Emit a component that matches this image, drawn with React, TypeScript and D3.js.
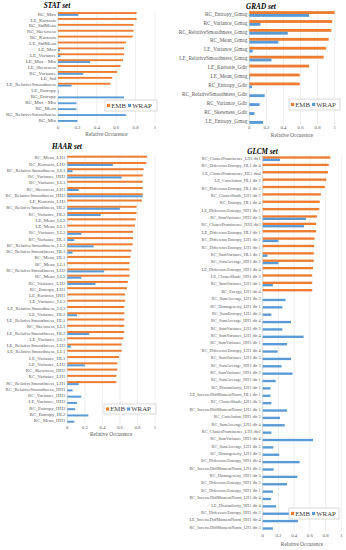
import React from 'react';
import * as d3 from 'd3';

// ---- data ----
const TICKS = [0, 0.2, 0.4, 0.6, 0.8, 1];
const SERIES = ['EMB', 'WRAP'];
const COLORS = ['#ED7D31', '#5B9BD5'];

const STAT_CATS = ['RC_Max', 'LE_Kurtosis', 'RC_StdMean', 'RC_Skewness', 'RC_Kurtosis', 'LE_StdMean', 'LE_Max', 'LE_Variance', 'LE_Max - Min', 'LE_Skewness', 'RC_Variance', 'LE_Std', 'LE_RelativeSmoothness', 'LE_Entropy', 'RC_Entropy', 'RC_Max - Min', 'RC_Mean', 'RC_RelativeSmoothness', 'RC_Min'];
const STAT_EMB = [0.81, 0.81, 0.78, 0.78, 0.77, 0.7, 0.68, 0.68, 0.67, 0.645, 0.61, 0.56, 0.54, 0, 0, 0, 0, 0, 0];
const STAT_WRAP = [0.21, 0, 0, 0, 0, 0, 0.02, 0.025, 0.33, 0, 0.26, 0, 0.14, 0.01, 0.68, 0.19, 0.19, 0.7, 0.2];

const GRAD_CATS = ['RC_Entropy_Gmag', 'RC_Variance_Gmag', 'RC_RelativeSmoothness_Gmag', 'RC_Mean_Gmag', 'LE_Variance_Gmag', 'LE_RelativeSmoothness_Gmag', 'LE_Kurtosis_Gdir', 'LE_Mean_Gmag', 'RC_Entropy_Gdir', 'RC_RelativeSmoothness_Gdir', 'RC_Variance_Gdir', 'RC_Skewness_Gdir', 'LE_Entropy_Gmag'];
const GRAD_EMB = [1.0, 0.97, 0.96, 0.93, 0.9, 0.87, 0.7, 0.59, 0.59, 0, 0, 0, 0];
const GRAD_WRAP = [0.7, 0.13, 0.45, 0.34, 0.04, 0.26, 0, 0.01, 0.03, 0.18, 0.12, 0.06, 0.16];

const HAAR_CATS = ['RC_Mean_LH1', 'RC_Kurtosis_LH2', 'RC_RelativeSmoothness_LL1', 'RC_Variance_HH2', 'RC_Variance_LL1', 'RC_Skewness_LH1', 'RC_RelativeSmoothness_HH2', 'LE_Kurtosis_LH2', 'RC_RelativeSmoothness_HL2', 'RC_Variance_HL2', 'LE_Mean_LL2', 'LE_Mean_LL1', 'RC_Variance_LL2', 'RC_Variance_HL1', 'RC_RelativeSmoothness_LL2', 'RC_RelativeSmoothness_HL1', 'RC_Mean_HL1', 'RC_Mean_LL1', 'RC_RelativeSmoothness_LH2', 'RC_Mean_LL2', 'RC_Variance_LH2', 'RC_Entropy_LH1', 'LE_Kurtosis_HH1', 'LE_Variance_LL2', 'LE_RelativeSmoothness_LL2', 'LE_Variance_HL2', 'LE_RelativeSmoothness_HL1', 'RC_Skewness_LL1', 'LE_RelativeSmoothness_HL2', 'LE_Variance_LL1', 'LE_RelativeSmoothness_LH2', 'LE_RelativeSmoothness_LL1', 'LE_Variance_HL1', 'LE_Variance_LH2', 'RC_Skewness_HH2', 'RC_Variance_LH1', 'RC_RelativeSmoothness_LH1', 'RC_RelativeSmoothness_HH1', 'RC_Variance_HH1', 'LE_Variance_HH2', 'RC_Entropy_HH2', 'RC_Entropy_HL2', 'RC_Mean_HH1'];
const HAAR_EMB = [0.91, 0.9, 0.87, 0.86, 0.86, 0.86, 0.86, 0.85, 0.79, 0.79, 0.78, 0.77, 0.75, 0.75, 0.745, 0.73, 0.72, 0.71, 0.71, 0.71, 0.69, 0.68, 0.66, 0.66, 0.65, 0.65, 0.65, 0.65, 0.65, 0.64, 0.62, 0.62, 0.59, 0.57, 0.57, 0.56, 0.56, 0, 0, 0, 0, 0, 0];
const HAAR_WRAP = [0, 0.52, 0.06, 0.62, 0, 0.13, 0.86, 0, 0.6, 0.38, 0, 0, 0.16, 0.08, 0.3, 0.06, 0, 0, 0.42, 0.16, 0.32, 0, 0, 0, 0, 0.11, 0, 0, 0.25, 0, 0.04, 0, 0, 0.2, 0, 0, 0.13, 0.06, 0.16, 0.11, 0.09, 0.24, 0.08];

const GLCM_CATS = ['RC_ClusterProminence_LH1 dir1', 'RC_DifferenceEntropy_HL1 dir 4', 'LE_ClusterProminence_HL1 dir4', 'LE_Correlation_HL1 dir 2', 'RC_DifferenceEntropy_HL1 dir 2', 'RC_ClusterShade_LH1 dir 2', 'RC_Entropy_HL1 dir 4', 'LE_DifferenceEntropy_HH1 dir 1', 'RC_SumVariance_HH1 dir 3', 'RC_ClusterProminence_HH1 dir3', 'LE_DifferenceEntropy_HL1 dir 1', 'RC_DifferenceEntropy_LH1 dir 2', 'RC_DifferenceEntropy_LH1 dir 1', 'RC_SumVariance_HL1 dir 1', 'RC_SumAverage_HH1 dir 2', 'LE_DifferenceEntropy_HH1 dir 4', 'LE_ClusterShade_HH1 dir 2', 'RC_SumVariance_LH1 dir 1', 'RC_Energy_LH1 dir 4', 'RC_SumAverage_LH1 dir 3', 'RC_Homogeneity_LH1 dir 1', 'RC_SumEntropy_LH1 dir 3', 'RC_SumAverage_HH1 dir 4', 'RC_SumVariance_LH1 dir 2', 'RC_SumVariance_LH1 dir 4', 'RC_SumVariance_HH1 dir 1', 'RC_DifferenceEntropy_LH1 dir 4', 'RC_SumVariance_LH1 dir 3', 'RC_SumAverage_HH1 dir 3', 'RC_SumVariance_HH1 dir 2', 'RC_SumAverage_HH1 dir 1', 'RC_Dissimilarity_LH1 dir 1', 'LE_InverseDiffMomentNorm_HL1 dir 1', 'RC_ClusterShade_LH1 dir 3', 'RC_InverseDiffMomentNorm_LH1 dir 1', 'RC_Correlation_HH1 dir 2', 'RC_SumAverage_LH1 dir 4', 'RC_ClusterProminence_LH1 dir2', 'RC_SumVariance_HH1 dir 4', 'RC_SumAverage_LH1 dir 2', 'RC_Homogeneity_LH1 dir 2', 'RC_DifferenceEntropy_HH1 dir 4', 'RC_InverseDiffMomentNorm_LH1 dir 2', 'RC_Homogeneity_HH1 dir 3', 'RC_DifferenceEntropy_HH1 dir 3', 'RC_DifferenceEntropy_HH1 dir 1', 'RC_InverseDiffMomentNorm_LH1 dir 4', 'LE_Dissimilarity_HH1 dir 4', 'RC_DifferenceEntropy_HH1 dir 2', 'LE_InverseDiffMomentNorm_HH1 dir 4', 'RC_InverseDiffMomentNorm_LH1 dir 3'];
const GLCM_EMB = [0.86, 0.84, 0.83, 0.81, 0.79, 0.74, 0.725, 0.72, 0.69, 0.68, 0.68, 0.66, 0.655, 0.65, 0.65, 0.64, 0.63, 0.63, 0.63, 0, 0, 0, 0, 0, 0, 0, 0, 0, 0, 0, 0, 0, 0, 0, 0, 0, 0, 0, 0, 0, 0, 0, 0, 0, 0, 0, 0, 0, 0, 0, 0];
const GLCM_WRAP = [0.22, 0, 0, 0, 0, 0, 0, 0, 0.55, 0.525, 0, 0.2, 0, 0.06, 0.2, 0, 0, 0.13, 0, 0.29, 0.25, 0.11, 0.36, 0.25, 0.52, 0.31, 0.19, 0.36, 0.24, 0.38, 0.165, 0.1, 0.1, 0.11, 0.31, 0.22, 0.28, 0.11, 0.64, 0.135, 0.21, 0.47, 0.14, 0.44, 0.31, 0.13, 0.105, 0.17, 0.47, 0.45, 0.13];

const FONT = '"Liberation Serif", "Times New Roman", serif';

function Panel({ title, cats, emb, wrap, x0, x1, yFirst, yLast, labelSize, titleX, titleY, tickY, xTitleY, legend }) {
  const x = d3.scaleLinear().domain([0, 1]).range([x0, x1]);
  const y = d3.scalePoint().domain(cats).range([yFirst, yLast]);
  const step = y.step();
  const bh = step * 0.32;
  const top = yFirst - step / 2;
  const bottom = yLast + step / 2;
  const series = [emb, wrap];

  return (
    <g>
      <text x={titleX} y={titleY} textAnchor="middle" fontSize={7.2} fontWeight="bold" fontStyle="italic" fontFamily={FONT} fill="#000">{title}</text>
      {TICKS.map(t => (
        <line key={t} x1={x(t)} x2={x(t)} y1={top} y2={bottom} stroke={t === 0 ? '#bfbfbf' : '#e3e3e3'} strokeWidth={0.6} />
      ))}
      {series.map((vals, si) =>
        cats.map((c, i) => vals[i] > 0 ? (
          <rect key={si + c} x={x(0)} y={y(c) - bh + si * bh} width={x(vals[i]) - x(0)} height={bh} fill={COLORS[si]} />
        ) : null)
      )}
      {cats.map(c => (
        <text key={c} x={x0 - 2} y={y(c)} dy="0.33em" textAnchor="end" fontSize={labelSize} fontFamily={FONT} fill="#595959">{c}</text>
      ))}
      {TICKS.map(t => (
        <text key={'t' + t} x={x(t)} y={tickY} dy="0.33em" textAnchor="middle" fontSize={4.8} fontFamily={FONT} fill="#595959">{d3.format('~g')(t)}</text>
      ))}
      <text x={(x0 + x1) / 2} y={xTitleY} dy="0.33em" textAnchor="middle" fontSize={5.4} fontFamily={FONT} fill="#595959">Relative Occurence</text>
      <g transform={`translate(${legend.x},${legend.y})`}>
        <rect width={legend.w} height={legend.h} fill="#fff" stroke="#bfbfbf" strokeWidth={0.6} />
        {SERIES.map((s, i) => (
          <g key={s} transform={`translate(${i === 0 ? 2 : 23},0)`}>
            <rect x={0} y={legend.h / 2 - 1.6} width={3.2} height={3.2} fill={COLORS[i]} />
            <text x={4.2} y={legend.h / 2} dy="0.35em" fontSize={6.8} fontFamily={FONT} fill="#404040">{s}</text>
          </g>
        ))}
      </g>
    </g>
  );
}

export default function App() {
  return (
    <svg width={346} height={550} style={{ position: 'absolute', left: 0, top: 0, background: '#fff' }}>
      <Panel title="STAT set" cats={STAT_CATS} emb={STAT_EMB} wrap={STAT_WRAP}
        x0={58} x1={155} yFirst={14} yLast={120} labelSize={5}
        titleX={57} titleY={7.5} tickY={127} xTitleY={134}
        legend={{ x: 105, y: 100, w: 52, h: 11 }} />
      <Panel title="GRAD set" cats={GRAD_CATS} emb={GRAD_EMB} wrap={GRAD_WRAP}
        x0={249.3} x1={334.7} yFirst={14} yLast={121} labelSize={5.3}
        titleX={261} titleY={8.5} tickY={127.5} xTitleY={135}
        legend={{ x: 289, y: 99, w: 51, h: 11 }} />
      <Panel title="HAAR set" cats={HAAR_CATS} emb={HAAR_EMB} wrap={HAAR_WRAP}
        x0={67.3} x1={155} yFirst={157.7} yLast={420.7} labelSize={4.8}
        titleX={67} titleY={149} tickY={427.5} xTitleY={434.5}
        legend={{ x: 104, y: 404, w: 52, h: 10 }} />
      <Panel title="GLCM set" cats={GLCM_CATS} emb={GLCM_EMB} wrap={GLCM_WRAP}
        x0={262.7} x1={341.3} yFirst={158.7} yLast={527.3} labelSize={4.3}
        titleX={262.5} titleY={153.5} tickY={535.7} xTitleY={544.3}
        legend={{ x: 289, y: 508, w: 50, h: 11 }} />
    </svg>
  );
}
